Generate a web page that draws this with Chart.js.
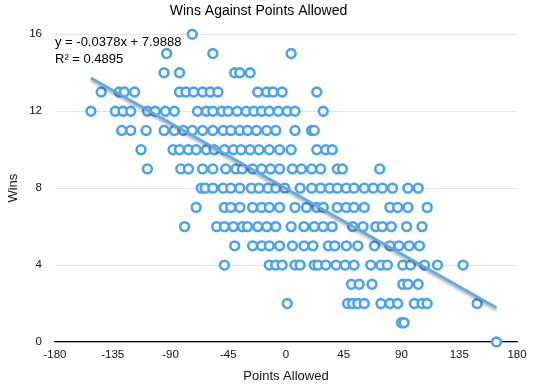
<!DOCTYPE html>
<html>
<head>
<meta charset="utf-8">
<script src="https://cdn.jsdelivr.net/npm/chart.js@4.4.1/dist/chart.umd.min.js"></script>
<style>
  body { margin: 0; background: #fff; }
</style>
</head>
<body>
<canvas id="winsChart" width="539" height="390"></canvas>
<script>
// points allowed for each win total (index = wins)
const allowedAtWins = [
  [164],
  [90, 92],
  [1, 48, 52, 56, 61, 74, 81, 87, 100, 106, 110, 149],
  [51, 57, 67, 91, 95, 103],
  [-48, -13, -8, -3, 7, 11, 22, 25, 31, 39, 46, 53, 66, 74, 79, 91, 97, 108, 118, 138],
  [-40, -26, -19, -13, -5, 5, 14, 21, 33, 38, 47, 56, 69, 81, 88, 96, 104],
  [-79, -54, -48, -41, -34, -30, -22, -15, -8, 4, 14, 22, 29, 36, 52, 60, 70, 75, 82, 94, 106],
  [-70, -48, -43, -36, -26, -19, -13, -5, 7, 16, 24, 29, 40, 47, 53, 61, 81, 87, 95, 110],
  [-66, -63, -57, -49, -43, -36, -27, -21, -14, -8, -1, 11, 20, 27, 34, 40, 47, 53, 61, 68, 75, 83, 95, 103],
  [-108, -82, -76, -65, -57, -47, -39, -34, -26, -19, -12, -5, 5, 12, 20, 27, 40, 44, 73],
  [-113, -88, -83, -76, -70, -62, -56, -48, -41, -35, -28, -21, -13, -5, 4, 24, 31, 36],
  [-128, -121, -109, -95, -87, -80, -73, -65, -57, -49, -43, -36, -30, -23, -15, -8, 7, 20, 22],
  [-152, -133, -127, -121, -108, -102, -94, -87, -69, -62, -57, -50, -45, -38, -31, -25, -19, -13, -6, 1, 7, 29],
  [-144, -130, -126, -118, -83, -78, -72, -65, -59, -53, -22, -15, -10, -3, 24],
  [-95, -83, -40, -36, -28],
  [-93, -57, 4],
  [-73]
];

const trendSlope = -0.0378;
const trendIntercept = 7.9888;
const trendR2 = 0.4895;

const xTicks = [-180, -135, -90, -45, 0, 45, 90, 135, 180];
const yTicks = [0, 4, 8, 12, 16];

var points = [];
allowedAtWins.forEach(function(list, wins){
  list.forEach(function(x){ points.push({x: x, y: wins}); });
});

var xs = points.map(function(p){ return p.x; });
var minX = Math.min.apply(null, xs);
var maxX = Math.max.apply(null, xs);
var trend = [
  {x: minX, y: trendSlope * minX + trendIntercept},
  {x: maxX, y: trendSlope * maxX + trendIntercept}
];

Chart.defaults.font.family = 'Helvetica, "Liberation Sans", Arial, sans-serif';
Chart.defaults.color = '#111';

const trendShadow = {
  id: 'trendShadow',
  beforeDatasetDraw(chart, args){
    if (args.index !== 1) return;
    var ctx = chart.ctx;
    ctx.save();
    ctx.shadowColor = 'rgba(0,0,0,0.4)';
    ctx.shadowBlur = 3;
    ctx.shadowOffsetY = 2;
  },
  afterDatasetDraw(chart, args){
    if (args.index !== 1) return;
    chart.ctx.restore();
  }
};

const trendLabel = {
  id: 'trendLabel',
  beforeDatasetsDraw(chart){
    var ctx = chart.ctx;
    var a = chart.chartArea;
    ctx.save();
    ctx.font = '13px Helvetica, "Liberation Sans", Arial, sans-serif';
    ctx.fillStyle = '#000';
    ctx.textBaseline = 'middle';
    ctx.fillText('y = ' + trendSlope + 'x + ' + trendIntercept, a.left, a.top + 8.5);
    ctx.fillText('R² = ' + trendR2, a.left, a.top + 25.5);
    ctx.restore();
  }
};

var ctx = document.getElementById('winsChart').getContext('2d');
var chart = new Chart(ctx, {
  type: 'scatter',
  data: {
    datasets: [
      {
        label: 'Wins',
        data: points,
        pointRadius: 4.4,
        pointBorderWidth: 2.6,
        borderColor: '#4aa3f2',
        backgroundColor: '#ffffff',
        clip: false,
        order: 2
      },
      {
        type: 'line',
        label: 'Trend',
        data: trend,
        borderColor: '#5fa9e6',
        borderWidth: 2.6,
        pointRadius: 0,
        fill: false,
        clip: false,
        order: 1
      }
    ]
  },
  options: {
    responsive: false,
    animation: false,
    layout: { padding: { left: 0, right: 22, top: 0, bottom: 0 } },
    plugins: {
      legend: { display: false },
      tooltip: { enabled: false },
      title: {
        display: true,
        text: 'Wins Against Points Allowed',
        color: '#000',
        font: { size: 14, weight: 'normal' },
        padding: { top: 3, bottom: 14.5 }
      }
    },
    scales: {
      x: {
        type: 'linear',
        min: -180,
        max: 180,
        afterBuildTicks: function(scale){ scale.ticks = xTicks.map(function(v){ return {value: v}; }); },
        afterFit: function(scale){ scale.height = 48; },
        grid: { display: false, drawTicks: false },
        border: { display: true, color: '#000', width: 1.2 },
        ticks: { padding: 6, maxRotation: 0, color: '#111', font: { size: 11.5 } },
        title: { display: true, text: 'Points Allowed', color: '#111', font: { size: 13 }, padding: { top: 0, bottom: 5.5 } }
      },
      y: {
        min: 0,
        max: 16,
        afterBuildTicks: function(scale){ scale.ticks = yTicks.map(function(v){ return {value: v}; }); },
        afterFit: function(scale){ scale.width = 55; },
        grid: { color: '#e4e4e4', drawTicks: false },
        border: { display: false },
        ticks: { padding: 13, color: '#111', font: { size: 11.5 } },
        title: { display: true, text: 'Wins', color: '#111', font: { size: 13 }, padding: { top: 6, bottom: 0 } }
      }
    }
  },
  plugins: [trendShadow, trendLabel]
});
</script>
</body>
</html>
